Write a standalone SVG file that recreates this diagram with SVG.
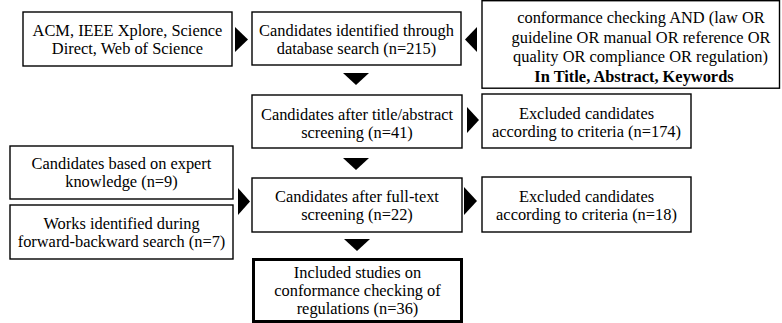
<svg xmlns="http://www.w3.org/2000/svg" width="782" height="323" viewBox="0 0 782 323">
<style>
.box{fill:#fff;stroke:#000;stroke-width:1.4}
.thick{fill:#fff;stroke:#000;stroke-width:3}
.arr{fill:#000;stroke:none}
.t{font-family:"Liberation Serif","Times New Roman",serif;font-size:16.4px;fill:#000;text-anchor:middle}
.b{font-weight:bold}
</style>
<rect width="782" height="323" fill="#fff"/>
<g id="connectors">
<polygon class="arr" points="235,27 248,39.5 235,52"/>
<polygon class="arr" points="477,27 465,39.5 477,52"/>
<polygon class="arr" points="343,73 369,73 356,85"/>
<polygon class="arr" points="467,107 479,120 467,133"/>
<polygon class="arr" points="343,158 369,158 356,170"/>
<polygon class="arr" points="238,188 250,201.5 238,215"/>
<polygon class="arr" points="464,187 477,201 464,215"/>
<polygon class="arr" points="344,239 370,239 357,251"/>
</g>
<g id="sources">
<rect class="box" x="23" y="12" width="209" height="54"/>
<text class="t" x="127.5" y="36">ACM, IEEE Xplore, Science</text>
<text class="t" x="127.5" y="54">Direct, Web of Science</text>
</g>
<g id="identified">
<rect class="box" x="252" y="12" width="209" height="53"/>
<text class="t" x="356.5" y="36">Candidates identified through</text>
<text class="t" x="356.5" y="54">database search (n=215)</text>
</g>
<g id="query">
<rect class="box" x="482" y="0.7" width="297.5" height="87.5"/>
<text class="t" x="641" y="23.2">conformance checking AND (law OR</text>
<text class="t" x="641" y="42.7">guideline OR manual OR reference OR</text>
<text class="t" x="640.5" y="62.2">quality OR compliance OR regulation)</text>
<text class="t b" x="634" y="81.7">In Title, Abstract, Keywords</text>
</g>
<g id="title-abstract">
<rect class="box" x="252" y="95" width="210" height="53"/>
<text class="t" x="357" y="120">Candidates after title/abstract</text>
<text class="t" x="357" y="138">screening (n=41)</text>
</g>
<g id="excluded1">
<rect class="box" x="482" y="94" width="209" height="54"/>
<text class="t" x="586.5" y="119">Excluded candidates</text>
<text class="t" x="586.5" y="137">according to criteria (n=174)</text>
</g>
<g id="expert">
<rect class="box" x="10" y="146" width="223" height="53"/>
<text class="t" x="121.5" y="169">Candidates based on expert</text>
<text class="t" x="121.5" y="187">knowledge (n=9)</text>
</g>
<g id="forward-backward">
<rect class="box" x="10" y="205" width="223" height="54"/>
<text class="t" x="121.5" y="229">Works identified during</text>
<text class="t" x="121.5" y="247">forward-backward search (n=7)</text>
</g>
<g id="full-text">
<rect class="box" x="252" y="178" width="210" height="54"/>
<text class="t" x="357" y="202">Candidates after full-text</text>
<text class="t" x="357" y="220">screening (n=22)</text>
</g>
<g id="excluded2">
<rect class="box" x="482" y="177" width="209" height="55"/>
<text class="t" x="586.5" y="202">Excluded candidates</text>
<text class="t" x="586.5" y="220">according to criteria (n=18)</text>
</g>
<g id="included">
<rect class="thick" x="253.5" y="259.5" width="208" height="62"/>
<text class="t" x="357.5" y="278">Included studies on</text>
<text class="t" x="357.5" y="296">conformance checking of</text>
<text class="t" x="357.5" y="314">regulations (n=36)</text>
</g>
</svg>
